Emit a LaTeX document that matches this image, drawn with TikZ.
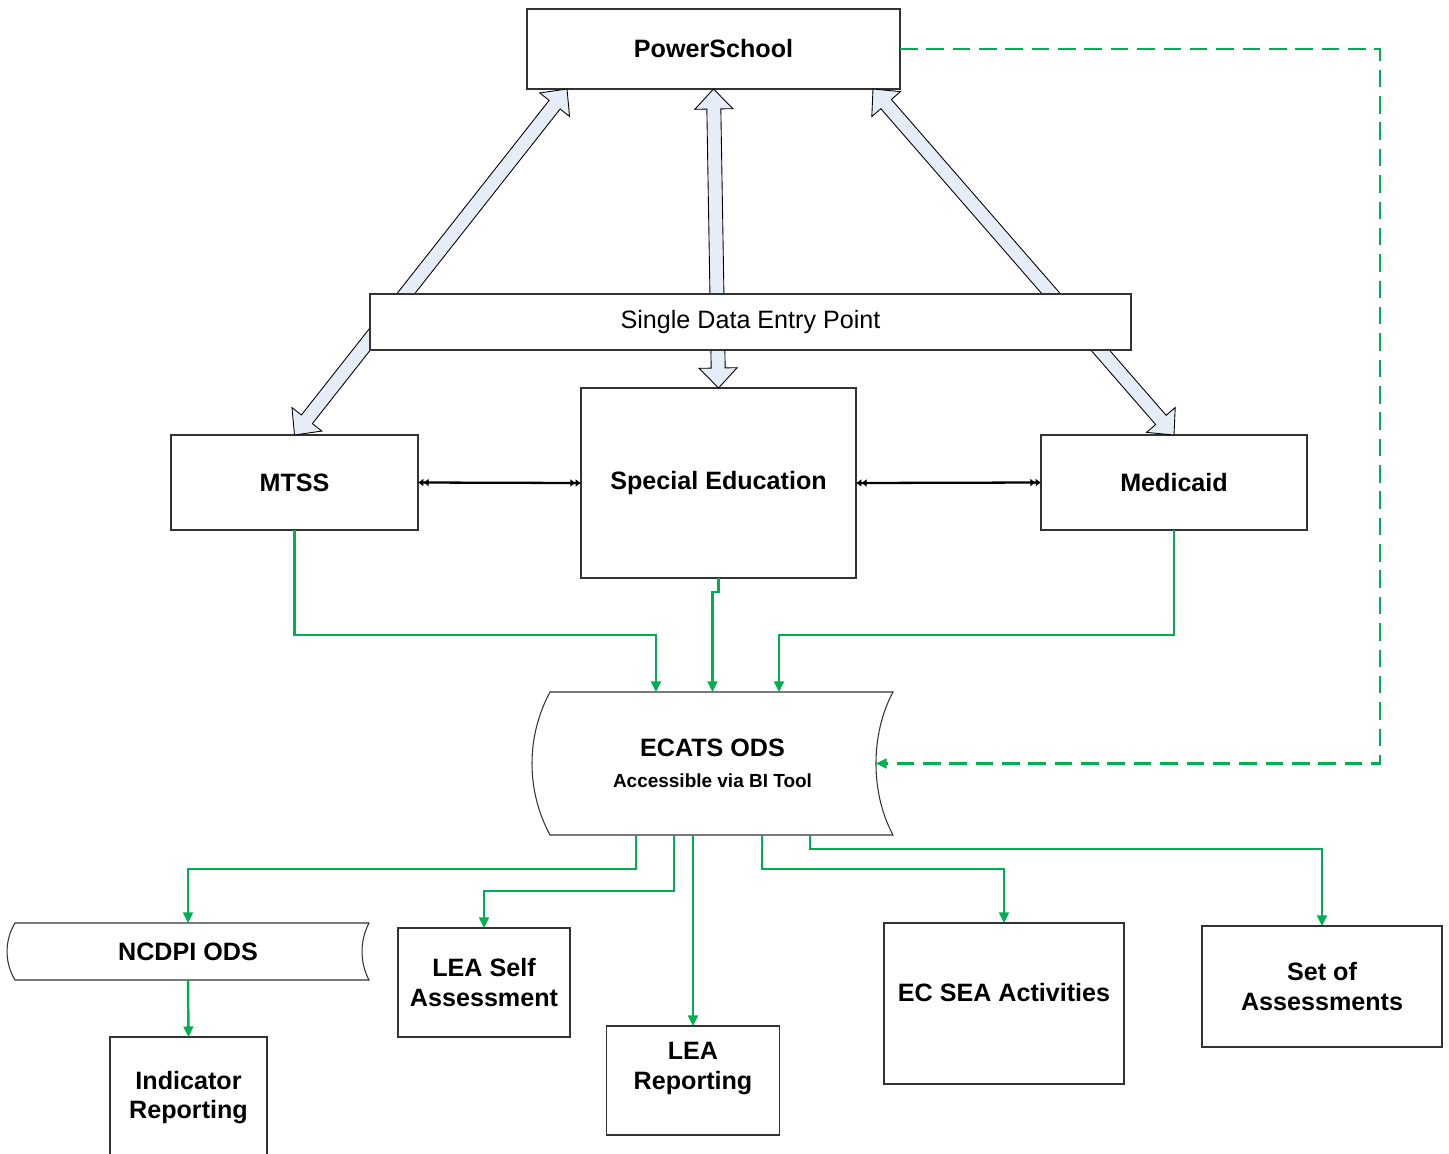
\documentclass[tikz,border=0pt]{standalone}
\usepackage{fontspec}
\setmainfont{Liberation Sans}
\usetikzlibrary{arrows.meta,calc}
\definecolor{ecgreen}{RGB}{0,176,80}
\definecolor{arrowfill}{RGB}{231,237,248}
\newcommand{\dataarrow}[2]{%
  \coordinate (da) at (#1);
  \coordinate (db) at (#2);
  \coordinate (da1) at ($(da)!0.4cm!(db)$);
  \coordinate (db1) at ($(db)!0.4cm!(da)$);
  \draw[fat arrow] (da) -- ($(da1)!0.38cm!90:(db)$) -- ($(da1)!0.14cm!90:(db)$)
    -- ($(db1)!0.14cm!-90:(da)$) -- ($(db1)!0.38cm!-90:(da)$) -- (db)
    -- ($(db1)!0.38cm!90:(da)$) -- ($(db1)!0.14cm!90:(da)$)
    -- ($(da1)!0.14cm!-90:(db)$) -- ($(da1)!0.38cm!-90:(db)$) -- cycle;}
\begin{document}
\begin{tikzpicture}[
    x=0.02cm, y=-0.02cm,
    box/.style={draw=black!80, line width=0.6pt, fill=white, inner sep=0pt, outer sep=0pt,
      align=center, font=\fontsize{14.3}{17}\selectfont\bfseries},
    boxsize/.style 2 args={minimum width=#1*0.02cm, minimum height=#2*0.02cm},
    store/.style={inner sep=0pt, outer sep=0pt, align=center, font=\fontsize{14.3}{17}\selectfont\bfseries},
    storeline/.style={draw=black!80, line width=0.6pt},
    fat arrow/.style={draw=black, line width=0.5pt, fill=arrowfill, line join=miter},
    flow/.style={draw=ecgreen, line width=1.4pt, -{Triangle[length=6pt,width=5.5pt]}},
    feed/.style={flow, dash pattern=on 10pt off 5pt},
    link/.style={draw, line width=1.3pt,
      {Latex[length=3pt,width=4.5pt]Latex[length=3pt,width=4.5pt]}-{Latex[length=3pt,width=4.5pt]Latex[length=3pt,width=4.5pt]}},
    ]
\useasboundingbox (0,0) rectangle (1449,1153);
\node[box, boxsize={373}{80}] (ps) at (713.5,49) {PowerSchool};
\node[box, boxsize={247}{95}] (mtss) at (294.5,482.5) {MTSS};
\node[box, boxsize={275}{190}] (sped) at (718.5,483) {Special Education};
\node[box, boxsize={266}{95}] (medicaid) at (1174,482.5) {Medicaid};
\dataarrow{$(ps.south west)+(40,0)$}{mtss.north}
\dataarrow{ps.south}{sped.north}
\dataarrow{$(ps.south east)+(-27,0)$}{medicaid.north}
\node[box, boxsize={761}{56}, font=\fontsize{14.3}{17}\selectfont] (sdep) at (750.5,322) {Single Data Entry Point};
\node[store, boxsize={361}{143}, font=\fontsize{10.8}{17.6}\selectfont\bfseries] (ecats) at (712.5,763.5)
  {{\fontsize{14.3}{17}\selectfont ECATS ODS}\\{\fontsize{10.8}{13}\selectfont Accessible via BI Tool}};
\draw[storeline] ($(ecats.north west)+(18,0)$) -- (ecats.north east)
  .. controls ($(ecats.north east)+(-22.7,42)$) and ($(ecats.south east)+(-22.7,-42)$) .. (ecats.south east)
  -- ($(ecats.south west)+(18,0)$)
  .. controls ($(ecats.south west)+(-6,-44.6)$) and ($(ecats.north west)+(-6,44.6)$) .. ($(ecats.north west)+(18,0)$) -- cycle;
\node[store, boxsize={362}{57}] (ncdpi) at (188,951.5) {NCDPI ODS};
\draw[storeline] ($(ncdpi.north west)+(8,0)$) -- (ncdpi.north east)
  .. controls ($(ncdpi.north east)+(-9.3,17.8)$) and ($(ncdpi.south east)+(-9.3,-17.8)$) .. (ncdpi.south east)
  -- ($(ncdpi.south west)+(8,0)$)
  .. controls ($(ncdpi.south west)+(-2.6,-17.5)$) and ($(ncdpi.north west)+(-2.6,17.5)$) .. ($(ncdpi.north west)+(8,0)$) -- cycle;
\node[box, boxsize={157}{121}] (indicator) at (188.5,1097.5) {Indicator\\Reporting};
\node[box, boxsize={172}{109}] (leaself) at (484,982.5) {LEA Self\\Assessment};
\node[box, boxsize={173}{109}] (learep) at (693,1080.5) {LEA\\Reporting\\~};
\node[box, boxsize={240}{161}] (ecsea) at (1004,1003.5) {EC SEA Activities\\[-4pt]~};
\node[box, boxsize={240}{121}] (sets) at (1322,986.5) {Set of\\Assessments};
\draw[link] (mtss.east) -- (sped.west);
\draw[link] (sped.east) -- (medicaid.west);
\draw[flow] (mtss.south) -- ++(0,105) -| ($(ecats.north)+(-56.5,0)$);
\draw[flow] (sped.south) -- ++(0,14) -| (ecats.north);
\draw[flow] (medicaid.south) -- ++(0,105) -| ($(ecats.north)+(66.5,0)$);
\draw[feed] (ps.east) -- ++(480,0) |- ($(ecats.east)+(-17,0)$);
\draw[flow] ($(ecats.south)+(-76.5,0)$) -- ++(0,34) -| (ncdpi.north);
\draw[flow] ($(ecats.south)+(-38.5,0)$) -- ++(0,56) -| (leaself.north);
\draw[flow] ($(ecats.south)+(-19.5,0)$) -- (learep.north);
\draw[flow] ($(ecats.south)+(49.5,0)$) -- ++(0,34) -| (ecsea.north);
\draw[flow] ($(ecats.south)+(97.5,0)$) -- ++(0,14) -| (sets.north);
\draw[flow] (ncdpi.south) -- (indicator.north);
\end{tikzpicture}
\end{document}
